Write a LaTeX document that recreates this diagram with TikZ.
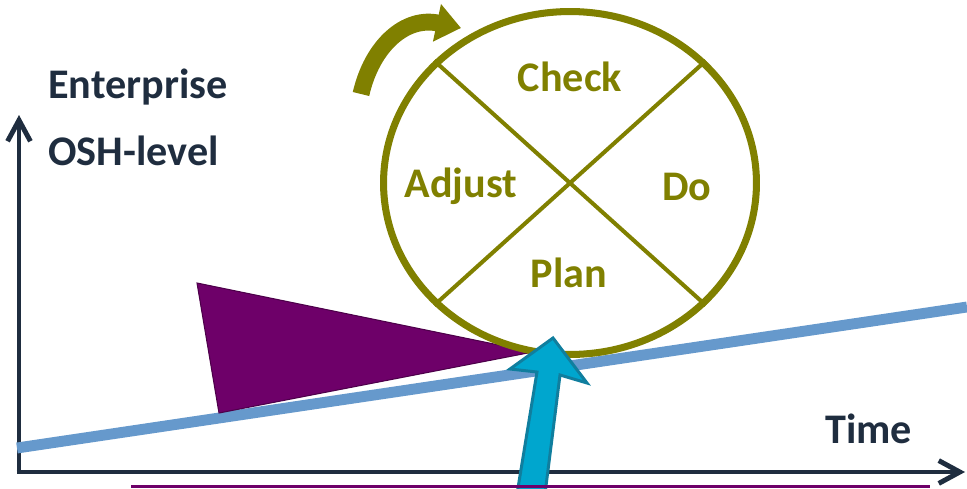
\documentclass[tikz,border=0pt]{standalone}
\usepackage{fontspec}
\setmainfont{Carlito}
\usetikzlibrary{arrows.meta, shapes.geometric, positioning}
\definecolor{axiscol}{RGB}{31,45,63}
\definecolor{cyclecol}{RGB}{128,128,0}
\definecolor{slopecol}{RGB}{102,153,204}
\definecolor{wedgecol}{RGB}{110,0,105}
\definecolor{pushfill}{RGB}{0,166,206}
\definecolor{pushline}{RGB}{16,126,158}
\tikzset{%
  % styles for the chart
  axis/.style = {draw=axiscol, line width=2.8pt,
                 -{Straight Barb[length=12pt, width=13pt, line width=2.8pt]}},
  cyc/.style = {ellipse, draw=cyclecol, line width=4pt,
                minimum width=7.46cm, minimum height=6.86cm, inner sep=0pt},
  spoke/.style = {draw=cyclecol, line width=2.3pt},
  steplbl/.style = {text=cyclecol, font=\fontsize{24}{28}\selectfont\bfseries,
                    inner sep=0pt, anchor=base},
  axlbl/.style = {text=axiscol, font=\fontsize{24}{28}\selectfont\bfseries,
                  inner sep=0pt, anchor=base west}
}
\begin{document}
\begin{tikzpicture}[x=0.02cm, y=0.02cm]
  \useasboundingbox (0,0) rectangle (967,488);

  % axes
  \coordinate (o) at (19,16);
  \coordinate (ytop) at (19,373);
  \coordinate (xend) at (965,16);
  \draw[axis] (o) -- (ytop);
  \draw[axis] ([xshift=-1.4pt]o) -- (xend);
  \node[axlbl] (ylbl1) at (48,390) {Enterprise};
  \node[axlbl] (ylbl2) at (48,323) {OSH-level};
  \node[axlbl] (xlbl) at (825,45) {Time};

  % slope and wedge
  \coordinate (s1) at (17,40);
  \coordinate (s2) at (967,181);
  \draw[slopecol, line width=6.2pt] (s1) -- (s2);
  \fill[wedgecol, draw=wedgecol!70!black, line width=0.6pt]
    (197,205) -- (219,75) -- (533,136) -- cycle;

  % the cycle
  \node[cyc] (cycle) at (570,305) {};
  \draw[spoke] (cycle.42) -- (cycle.222);
  \draw[spoke] (cycle.138) -- (cycle.318);
  \node[steplbl] (check) at (570,397) {Check};
  \node[steplbl] (adjust) at (461,291) {Adjust};
  \node[steplbl] (do) at (687,288) {Do};
  \node[steplbl] (plan) at (569,201) {Plan};

  % turning arrow
  \coordinate (t1) at (361,394);
  \coordinate (t2) at (461,460);
  \draw[cyclecol, line width=9.6pt, -{Triangle[length=14pt, width=21pt]}]
    (t1) .. controls (372,442) and (405,472) .. (t2);

  % push arrow
  \filldraw[fill=pushfill, draw=pushline, line width=1.7pt, line join=miter]
    (517,-6) -- (537,116) -- (510,119) -- (553,150) -- (587,105)
    -- (560,113) -- (545,-6) -- cycle;

  % bottom rule
  \draw[wedgecol, line width=1.7pt] (131,1.5) -- (930,1.5);
\end{tikzpicture}
\end{document}
